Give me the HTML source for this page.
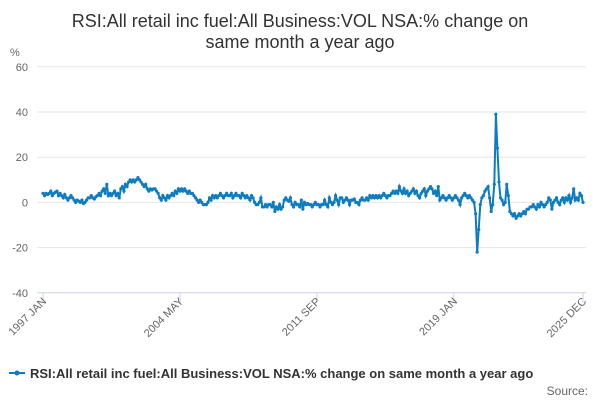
<!DOCTYPE html>
<html><head><meta charset="utf-8"><style>
body{margin:0;background:#fff;font-family:"Liberation Sans",sans-serif}
svg text{font-family:"Liberation Sans",sans-serif}
</style></head><body>
<svg id="c" width="600" height="400">
<text x="300" y="27" text-anchor="middle" font-size="18" fill="#333">RSI:All retail inc fuel:All Business:VOL NSA:% change on</text>
<text x="300" y="48" text-anchor="middle" font-size="18" fill="#333">same month a year ago</text>
<text x="10" y="56" font-size="11" fill="#666">%</text>
<g id="grid"></g><g id="xax"></g>
<path id="line" fill="none" stroke="#0e7cc1" stroke-width="2"/>
<g id="pts"></g>
<g>
<line x1="9" y1="373" x2="25" y2="373" stroke="#0e7cc1" stroke-width="2"/>
<circle cx="17" cy="373" r="2.5" fill="#0e7cc1"/>
<text x="30" y="378" font-size="13" font-weight="bold" fill="#333">RSI:All retail inc fuel:All Business:VOL NSA:% change on same month a year ago</text>
</g>
<text x="588" y="395" text-anchor="end" font-size="12" fill="#666">Source:</text>
</svg>
<script>
const yTicks=[60,40,20,0,-20,-40];
const xLabels=["1997 JAN","2004 MAY","2011 SEP","2019 JAN","2025 DEC"];
const xLabelIdx=[0,88,176,264,347];
const values=[
4,3,4,3.5,4,5,3,4,4.5,5,3,4,
3,2,3.5,2,1,2,3,2,1,0,1,0.5,
0,1,-0.5,0,1,2,2,3,2,1.5,2.5,3,
4,3,5,6,4,8,3,4,3,4,5,3,
4,2,6,7,5,8,7,9,10,9,10,9,
10,11,10,9,8,7,8,6,5,6,5.5,6,
6,5,4,2,1,3,2,1,3,2,3,4,
3,5,4,6,5,6,5,6,5,4,5,4,
4,3,2,1,0,1,0,-1,-1,-1,0,2,
1,3,2,3,2,3,4,3,2,3,4,3,
3,4,2,3,4,3,3,2,4,3,2,3,
2,1,3,2,0,-1,-1,0,2,-2,-2,-1,
-2,-1,-1,-2,0,-4,-2,-3,-1,-3,-2,1,
2,1,0.5,2,-1,-2,0,-1,-1,-2,1,-3,
0,-1,-0.5,-1,-1,-2,-1,0,-1,-1,-2,-1,
-1,1,-1,-2,2,0,-1,0,3,1,-1,2,
2,0,1,2,1,-1,1,1,1.5,0,0,-1,
1,2,1,1,2,1,3,2,3,2,3,2,
3,2,3,4,3,2,3,3,4,5,4,5,
4,7,5,4,6,4,5,3,4,5,6,4,
5,3,2,4,5,6,3,5,6,7,6,4,
5,3,7,1,2,3,2,1,2,3,2,1,
2,3,2,1,-1,2,3,4,3,2,3,2,
1,0,-5,-22,-12,-1,2,3,5,6,7,2,
-4,-1,8,39,24,9,2,1,-1,0,8,3,
-4,-5,-6,-5,-7,-6,-5,-6,-5,-4,-5,-3,
-3,-2,-2,-1,-2,-3,-1,-2,0,-1,-2,-1,
0,2,1,-3,0,1,2,0,-1,1,2,0,
2,1,3,0,2,6,1,2,1,4,3,0];
const NS="http://www.w3.org/2000/svg";
const X0=43,X1=583,Y0=202.4,K=2.26;
const xs=i=>X0+(X1-X0)*i/(values.length-1);
const ys=v=>Y0-v*K;
const grid=document.getElementById('grid');
yTicks.forEach(t=>{
const l=document.createElementNS(NS,'line');


l.setAttribute('x1',37);l.setAttribute('x2',586);l.setAttribute('y1',ys(t));l.setAttribute('y2',ys(t));
l.setAttribute('stroke',t===-40?'#ccd6eb':'#e6e6e6');l.setAttribute('stroke-width',1);
grid.appendChild(l);
const tx=document.createElementNS(NS,'text');


tx.setAttribute('x',28);tx.setAttribute('y',ys(t)+4);tx.setAttribute('text-anchor','end');
tx.setAttribute('font-size',11);tx.setAttribute('fill','#666');tx.textContent=t;
grid.appendChild(tx);
});
const xax=document.getElementById('xax');
xLabels.forEach((s,k)=>{
const x=xs(xLabelIdx[k]);
const tk=document.createElementNS(NS,'line');


tk.setAttribute('x1',x);tk.setAttribute('x2',x);tk.setAttribute('y1',293);tk.setAttribute('y2',303);
tk.setAttribute('stroke','#ccd6eb');xax.appendChild(tk);
const tx=document.createElementNS(NS,'text');


tx.setAttribute('transform',`translate(${x+4},${302}) rotate(-45)`);
tx.setAttribute('text-anchor','end');tx.setAttribute('font-size',11);tx.setAttribute('fill','#666');
tx.textContent=s;xax.appendChild(tx);
});
let d='';const pts=document.getElementById('pts');
values.forEach((v,i)=>{
d+=(i?'L':'M')+xs(i).toFixed(1)+','+ys(v).toFixed(1);
const c=document.createElementNS(NS,'circle');


c.setAttribute('cx',xs(i));c.setAttribute('cy',ys(v));c.setAttribute('r',1.6);c.setAttribute('fill','#0e7cc1');
pts.appendChild(c);
});
document.getElementById('line').setAttribute('d',d);
</script>
</body></html>
